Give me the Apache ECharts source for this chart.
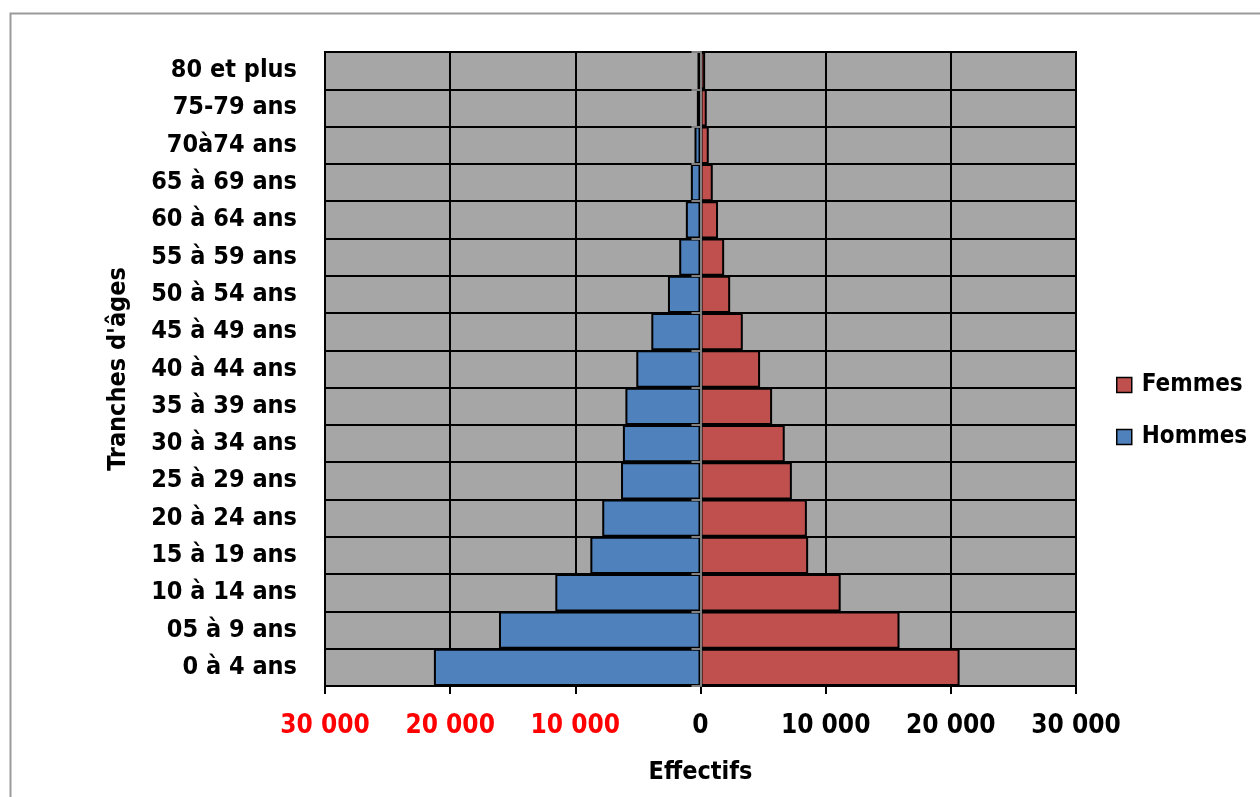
<!DOCTYPE html>
<html>
<head>
<meta charset="utf-8">
<script src="https://cdn.jsdelivr.net/npm/echarts@6/dist/echarts.min.js"></script>
<style>
html,body{margin:0;padding:0;background:#fff;}
#chart{width:1260px;height:797px;}
</style>
</head>
<body>
<div id="chart"></div>
<script>
const categories = ['0 à 4 ans','05 à 9 ans','10 à 14 ans','15 à 19 ans','20 à 24 ans','25 à 29 ans','30 à 34 ans','35 à 39 ans','40 à 44 ans','45 à 49 ans','50 à 54 ans','55 à 59 ans','60 à 64 ans','65 à 69 ans','70à74 ans','75-79 ans','80 et plus'];
const hommes = [21300, 16100, 11600, 8800, 7850, 6350, 6200, 6000, 5130, 3930, 2600, 1700, 1170, 770, 480, 290, 240];
const femmes = [20700, 15900, 11200, 8600, 8500, 7300, 6730, 5720, 4760, 3380, 2370, 1890, 1400, 980, 660, 500, 370];
const xTicks = {min: -30000, max: 30000, interval: 10000};

const FONT = "'DejaVu Sans Condensed', 'DejaVu Sans', sans-serif";

function fmt(v){
  const a = Math.abs(v);
  return String(a).replace(/\B(?=(\d{3})+(?!\d))/g, ' ');
}

const chart = echarts.init(document.getElementById('chart'));
chart.setOption({
  animation: false,
  backgroundColor: '#ffffff',
  graphic: [{
    type: 'rect', left: 8, top: 11, z: -10,
    shape: {x: 0, y: 0, width: 1300, height: 820},
    style: {fill: 'none', stroke: '#9a9a9a', lineWidth: 2}
  }],
  grid: {
    left: 325, right: 184, top: 52, bottom: 111,
    show: true, backgroundColor: '#A6A6A6', borderColor: '#000', borderWidth: 2
  },
  legend: {
    data: ['Femmes', 'Hommes'],
    orient: 'vertical',
    left: 1116, top: 373, padding: 0,
    itemWidth: 15, itemHeight: 15, itemGap: 28,
    icon: 'rect',
    itemStyle: {borderColor: '#000', borderWidth: 1.5},
    textStyle: {fontFamily: FONT, fontWeight: 'bold', fontSize: 24, color: '#000', padding: [0,0,0,5]}
  },
  xAxis: {
    type: 'value',
    min: xTicks.min, max: xTicks.max, interval: xTicks.interval,
    name: 'Effectifs', nameLocation: 'middle', nameGap: 74,
    nameTextStyle: {fontFamily: FONT, fontWeight: 'bold', fontSize: 25, color: '#000'},
    axisLine: {show: true, lineStyle: {color: '#000', width: 2}},
    axisTick: {show: true, length: 8, lineStyle: {color: '#000', width: 2}},
    axisLabel: {
      margin: 27,
      fontFamily: FONT, fontWeight: 'bold', fontSize: 26,
      color: function(v){ return v < 0 ? '#ff0000' : '#000000'; },
      formatter: fmt
    },
    splitLine: {show: true, lineStyle: {color: '#000', width: 2}}
  },
  yAxis: [{
    type: 'category',
    data: categories,
    position: 'left',
    name: "Tranches d'âges", nameLocation: 'middle', nameGap: 194, nameRotate: 90,
    nameTextStyle: {fontFamily: FONT, fontWeight: 'bold', fontSize: 25, color: '#000'},
    axisLine: {show: false, onZero: false},
    axisTick: {show: false},
    axisLabel: {margin: 28, fontFamily: FONT, fontWeight: 'bold', fontSize: 25, color: '#000'},
    splitLine: {show: true, lineStyle: {color: '#000', width: 2}}
  }, {
    type: 'category',
    data: categories,
    position: 'left',
    z: 10,
    axisLine: {show: true, onZero: true, lineStyle: {color: '#808080', width: 2}},
    axisTick: {show: true, length: 9, lineStyle: {color: '#808080', width: 2}},
    axisLabel: {show: false},
    splitLine: {show: false}
  }],
  series: [{
    name: 'Femmes', type: 'bar',
    data: femmes,
    barCategoryGap: 0, barGap: '-100%',
    itemStyle: {color: '#C0504D', borderColor: '#000', borderWidth: 2}
  }, {
    name: 'Hommes', type: 'bar',
    data: hommes.map(v => -v),
    barCategoryGap: 0, barGap: '-100%',
    itemStyle: {color: '#4F81BD', borderColor: '#000', borderWidth: 2}
  }]
});
</script>
</body>
</html>
